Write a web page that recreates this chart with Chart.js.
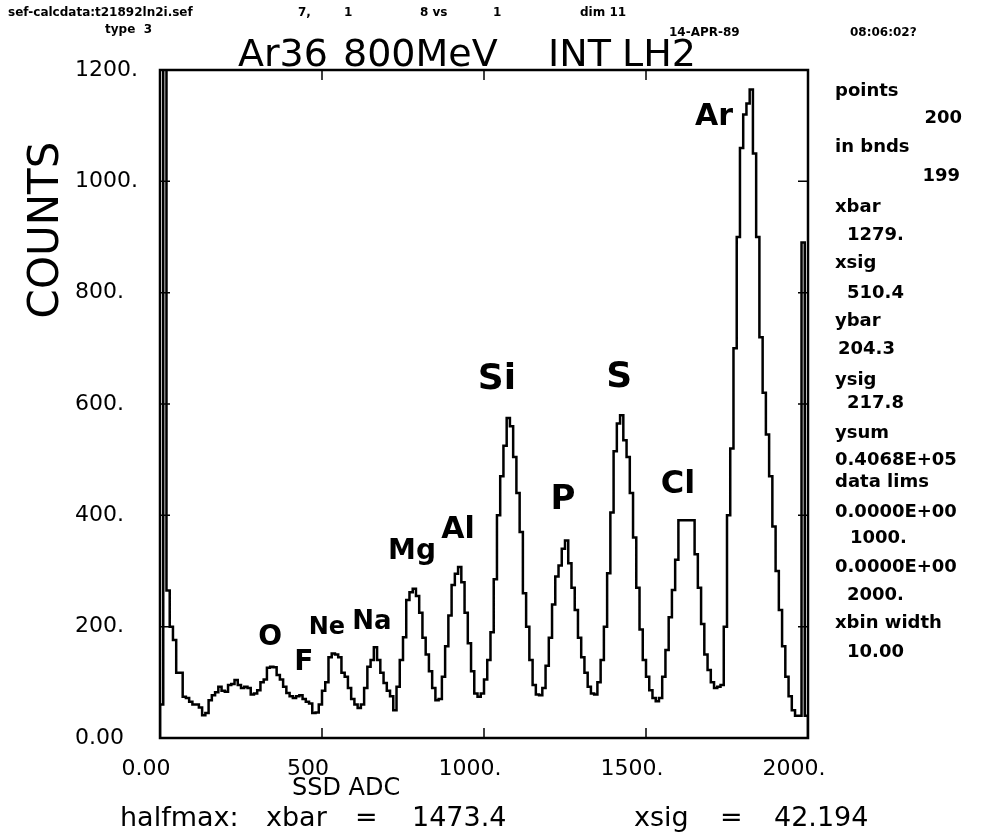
<!DOCTYPE html>
<html>
<head>
<meta charset="utf-8">
<title>Ar36 800MeV INT LH2</title>
<script src="https://cdn.jsdelivr.net/npm/chart.js@4.4.1/dist/chart.umd.min.js"></script>
<style>
    html, body { margin: 0; padding: 0; background: #fff; }
    canvas { display: block; }
</style>
</head>
<body>
<canvas id="myChart" width="990" height="832"></canvas>
<script>
(function () {
    "use strict";

    // SSD ADC histogram: 200 bins, 10 wide, starting at 0
    var binWidth = 10;
    var counts = [
        60, 1300, 265, 200, 176, 117, 117, 74, 72, 65,
        60, 60, 55, 41, 45, 68, 77, 82, 92, 85,
        83, 95, 97, 104, 95, 90, 92, 90, 78, 80,
        86, 100, 105, 126, 128, 127, 113, 105, 92, 81,
        75, 72, 75, 77, 70, 65, 62, 45, 46, 60,
        85, 100, 145, 152, 150, 145, 117, 110, 90, 70,
        60, 54, 60, 90, 128, 140, 163, 140, 117, 99,
        85, 75, 50, 92, 140, 181, 248, 262, 268, 255,
        225, 180, 150, 120, 90, 68, 70, 110, 165, 220,
        275, 295, 307, 280, 225, 170, 120, 80, 74, 80,
        105, 140, 190, 285, 400, 470, 525, 575, 560, 505,
        440, 370, 260, 200, 140, 95, 78, 77, 90, 130,
        180, 240, 290, 310, 340, 355, 314, 270, 230, 180,
        145, 117, 92, 80, 78, 100, 140, 200, 296, 405,
        515, 565, 580, 535, 505, 440, 360, 270, 195, 140,
        110, 86, 72, 66, 72, 110, 158, 217, 266, 320,
        391, 391, 391, 391, 391, 330, 270, 205, 150, 122,
        100, 90, 92, 95, 200, 400, 520, 700, 900, 1060,
        1120, 1140, 1165, 1050, 900, 720, 620, 545, 470, 380,
        300, 230, 165, 110, 75, 50, 40, 40, 890, 40
    ];

    var xTicks = [0, 500, 1000, 1500, 2000];
    var xTickLabels = ["0.00", "500", "1000.", "1500.", "2000."];
    var yTicks = [0, 200, 400, 600, 800, 1000, 1200];
    var yTickLabels = ["0.00", "200.", "400.", "600.", "800.", "1000.", "1200."];

    // hand written peak names, placed in data units
    var peakNames = ["O", "F", "Ne", "Na", "Mg", "Al", "Si", "P", "S", "Cl", "Ar"];
    var peakX = [340, 444, 515, 654, 778, 920, 1040, 1244, 1417, 1599, 1710];
    var peakY = [180, 136, 198, 208, 334, 374, 643, 427, 647, 455, 1116];
    var peakSize = [28, 28, 24, 26, 28, 30, 36, 34, 36, 32, 30];

    var statLines = [
        "points", "200", "in bnds", "199", "xbar", "1279.", "xsig", "510.4",
        "ybar", "204.3", "ysig", "217.8", "ysum", "0.4068E+05", "data lims",
        "0.0000E+00", "1000.", "0.0000E+00", "2000.", "xbin width", "10.00"
    ];
    var statBase = [96, 123, 152, 181, 212, 240, 268, 298, 326, 354, 385,
        408, 438, 465, 487, 517, 543, 572, 600, 628, 657];
    var statLeft = [835, 962, 835, 960, 835, 847, 835, 847, 835, 838, 835,
        847, 835, 835, 835, 835, 850, 835, 847, 835, 847];

    var points = [{ x: 0, y: 0 }];
    counts.forEach(function (c, i) {
        points.push({ x: i * binWidth, y: c });
    });
    points.push({ x: counts.length * binWidth, y: 0 });

    var sans = "'DejaVu Sans', sans-serif";

    var annotate = {
        id: "annotate",
        afterDraw: function (chart) {
            var c = chart.ctx;
            var a = chart.chartArea;
            var xs = chart.scales.x;
            var ys = chart.scales.y;
            c.save();
            c.strokeStyle = "#000";
            c.fillStyle = "#000";

            // frame and inward ticks
            c.lineWidth = 2.5;
            c.strokeRect(a.left, a.top, a.right - a.left, a.bottom - a.top);
            c.lineWidth = 1.5;
            c.beginPath();
            yTicks.forEach(function (v) {
                var y = ys.getPixelForValue(v);
                c.moveTo(a.left, y); c.lineTo(a.left + 10, y);
                c.moveTo(a.right, y); c.lineTo(a.right - 10, y);
            });
            xTicks.forEach(function (v) {
                var x = xs.getPixelForValue(v);
                c.moveTo(x, a.bottom); c.lineTo(x, a.bottom - 10);
                c.moveTo(x, a.top); c.lineTo(x, a.top + 10);
            });
            c.stroke();

            // header
            c.textBaseline = "alphabetic";
            c.textAlign = "left";
            c.font = "bold 12px " + sans;
            c.fillText("sef-calcdata:t21892ln2i.sef", 8, 16);
            c.fillText("7,", 298, 16);
            c.fillText("1", 344, 16);
            c.fillText("8 vs", 420, 16);
            c.fillText("1", 493, 16);
            c.fillText("dim 11", 580, 16);
            c.fillText("type  3", 105, 33);
            c.fillText("14-APR-89", 669, 36);
            c.fillText("08:06:02?", 850, 36);

            // title
            c.font = "38px " + sans;
            c.fillText("Ar36", 238, 66);
            c.fillText("800MeV", 343, 66);
            c.fillText("INT", 548, 66);
            c.fillText("LH2", 622, 66);

            // y axis title
            c.save();
            c.translate(58, 230);
            c.rotate(-Math.PI / 2);
            c.textAlign = "center";
            c.font = "42px " + sans;
            c.fillText("COUNTS", 0, 0);
            c.restore();

            // x axis title and half maximum line
            c.font = "24px " + sans;
            c.fillText("SSD ADC", 292, 795);
            c.font = "27px " + sans;
            c.fillText("halfmax:", 120, 826);
            c.fillText("xbar", 266, 826);
            c.fillText("=", 355, 826);
            c.fillText("1473.4", 412, 826);
            c.fillText("xsig", 634, 826);
            c.fillText("=", 720, 826);
            c.fillText("42.194", 774, 826);

            // statistics panel
            c.font = "bold 18px " + sans;
            statLines.forEach(function (t, i) {
                c.textAlign = statLeft[i] > 900 ? "right" : "left";
                c.fillText(t, statLeft[i], statBase[i]);
            });

            // peak names
            c.textAlign = "center";
            c.textBaseline = "middle";
            peakNames.forEach(function (n, i) {
                c.font = "bold " + peakSize[i] + "px " + sans;
                c.fillText(n, xs.getPixelForValue(peakX[i]), ys.getPixelForValue(peakY[i]));
            });
            c.restore();
        }
    };

    var myChart = new Chart(document.getElementById("myChart"), {
        type: "line",
        data: {
            datasets: [
                {
                    data: points,
                    stepped: true,
                    borderColor: "#000",
                    borderWidth: 2.5,
                    pointRadius: 0,
                    fill: false,
                    tension: 0
                }
            ]
        },
        options: {
            responsive: false,
            animation: false,
            layout: {
                padding: { top: 70, right: 182, left: 75, bottom: 0 }
            },
            scales: {
                x: {
                    type: "linear",
                    min: 0,
                    max: 2000,
                    afterFit: function (scale) { scale.height = 94; },
                    afterBuildTicks: function (scale) {
                        scale.ticks = xTicks.map(function (v) { return { value: v }; });
                    },
                    ticks: {
                        color: "#000",
                        font: { family: "DejaVu Sans", size: 22 },
                        padding: 18,
                        labelOffset: -14,
                        maxRotation: 0,
                        callback: function (v) { return xTickLabels[xTicks.indexOf(v)]; }
                    },
                    grid: { display: false, drawTicks: false },
                    border: { display: false }
                },
                y: {
                    min: 0,
                    max: 1200,
                    afterFit: function (scale) { scale.width = 85; },
                    afterBuildTicks: function (scale) {
                        scale.ticks = yTicks.map(function (v) { return { value: v }; });
                    },
                    ticks: {
                        color: "#000",
                        font: { family: "DejaVu Sans", size: 22 },
                        crossAlign: "far",
                        callback: function (v) { return yTickLabels[yTicks.indexOf(v)]; }
                    },
                    grid: { display: false, drawTicks: false },
                    border: { display: false }
                }
            },
            plugins: {
                legend: { display: false },
                tooltip: { enabled: false }
            }
        },
        plugins: [annotate]
    });
})();
</script>
</body>
</html>
